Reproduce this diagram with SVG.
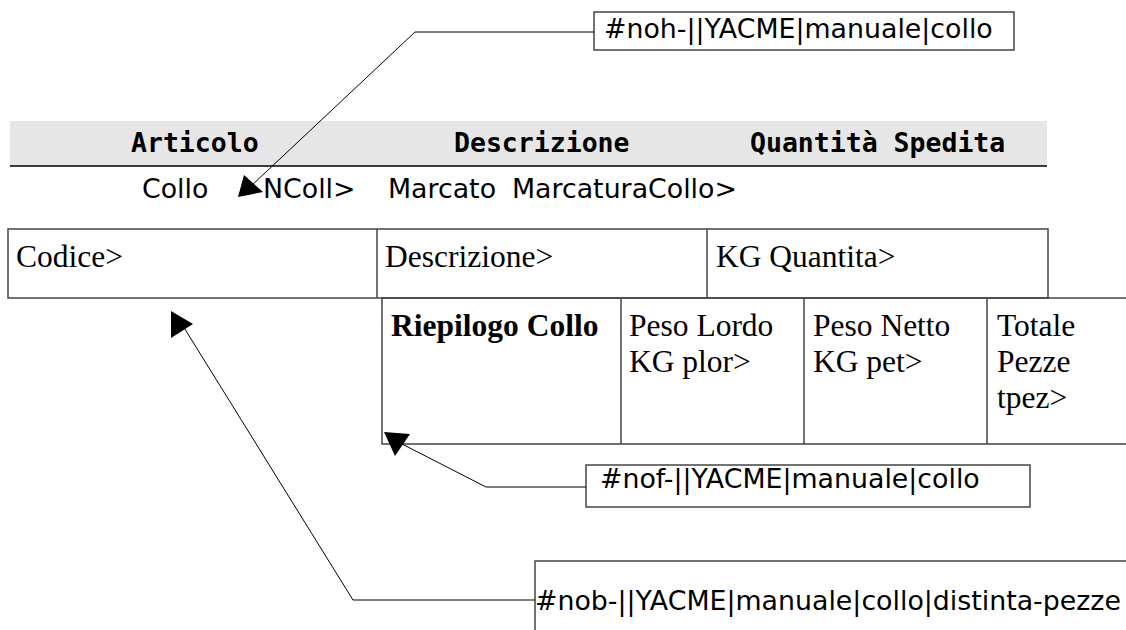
<svg xmlns="http://www.w3.org/2000/svg" width="1126" height="630" viewBox="0 0 1126 630">
  <style>
    .sans { font-family: "DejaVu Sans", sans-serif; font-size: 26.8px; fill: #000; }
    .mono { font-family: "DejaVu Sans Mono", monospace; font-size: 26.5px; font-weight: bold; fill: #000; }
    .serif { font-family: "Liberation Serif", "Times New Roman", serif; font-size: 31.5px; fill: #000; }
    .serifb { font-family: "Liberation Serif", "Times New Roman", serif; font-size: 31.5px; font-weight: bold; fill: #000; }
    .cell { fill: none; stroke: #444; stroke-width: 1.5; }
    .note { fill: #fff; stroke: #444; stroke-width: 1.5; }
    .wire { fill: none; stroke: #000; stroke-width: 1; }
    .head { fill: #000; stroke: none; }
  </style>

  <!-- header band -->
  <g id="header">
    <rect x="10" y="121" width="1037" height="45" fill="#e6e6e6"/>
    <line x1="10" y1="166" x2="1047" y2="166" stroke="#000" stroke-width="1.5"/>
    <text class="mono" x="131" y="152">Articolo</text>
    <text class="mono" x="454" y="152">Descrizione</text>
    <text class="mono" x="750" y="152">Quantità Spedita</text>
  </g>

  <!-- package line -->
  <g id="collo-row">
    <text class="sans" x="142" y="198">Collo</text>
    <text class="sans" x="263" y="198">NColl&gt;</text>
    <text class="sans" x="388" y="198">Marcato</text>
    <text class="sans" x="512" y="198">MarcaturaCollo&gt;</text>
  </g>

  <!-- item row -->
  <g id="item-row">
    <rect class="cell" x="8" y="229" width="1040" height="69"/>
    <line class="cell" x1="377" y1="229" x2="377" y2="298"/>
    <line class="cell" x1="707" y1="229" x2="707" y2="298"/>
    <text class="serif" x="16" y="267">Codice&gt;</text>
    <text class="serif" x="385" y="267">Descrizione&gt;</text>
    <text class="serif" x="716" y="267">KG Quantita&gt;</text>
  </g>

  <!-- package summary -->
  <g id="summary">
    <polyline class="cell" points="1126,298 382,298 382,444 1126,444"/>
    <line class="cell" x1="621" y1="298" x2="621" y2="444"/>
    <line class="cell" x1="804" y1="298" x2="804" y2="444"/>
    <line class="cell" x1="987" y1="298" x2="987" y2="444"/>
    <text class="serifb" x="391" y="336">Riepilogo Collo</text>
    <text class="serif" x="629" y="336">Peso Lordo</text>
    <text class="serif" x="629" y="372">KG plor&gt;</text>
    <text class="serif" x="813" y="336">Peso Netto</text>
    <text class="serif" x="813" y="372">KG pet&gt;</text>
    <text class="serif" x="997" y="336">Totale</text>
    <text class="serif" x="997" y="372">Pezze</text>
    <text class="serif" x="997" y="408">tpez&gt;</text>
  </g>

  <!-- annotation boxes -->
  <g id="note-noh">
    <rect class="note" x="594" y="12" width="420" height="38"/>
    <text class="sans" x="604" y="38">#noh-||YACME|manuale|collo</text>
  </g>
  <g id="note-nof">
    <rect class="note" x="586" y="465" width="444" height="42"/>
    <text class="sans" x="600" y="488">#nof-||YACME|manuale|collo</text>
  </g>
  <g id="note-nob">
    <polyline class="note" points="535,630 535,561 1126,561"/>
    <text class="sans" x="535" y="610">#nob-||YACME|manuale|collo|distinta-pezze</text>
  </g>

  <!-- connectors -->
  <g id="connectors">
    <polyline class="wire" points="594,32 415,32 250,187"/>
    <polygon class="head" points="238,197 244,175 263,192"/>
    <polyline class="wire" points="586,487 486,487 402,444"/>
    <polygon class="head" points="384,432 410,434 395,456"/>
    <polyline class="wire" points="535,600 353,600 183,326"/>
    <polygon class="head" points="171,311 193,324 171,338"/>
  </g>
</svg>
